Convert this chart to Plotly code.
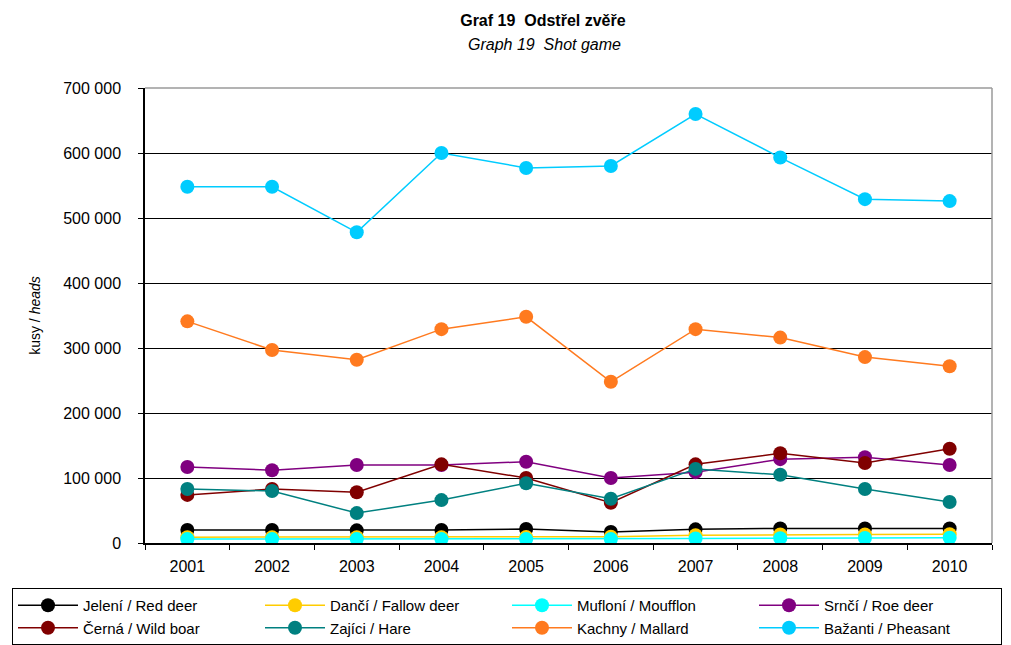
import plotly.graph_objects as go

years = ["2001", "2002", "2003", "2004", "2005", "2006", "2007", "2008", "2009", "2010"]

red_deer = [20000, 20000, 19500, 20000, 21500, 17000, 21000, 22500, 22500, 22500]
fallow_deer = [9000, 9000, 9000, 9000, 9200, 9800, 12000, 13000, 13200, 13500]
mouflon = [6000, 6000, 6000, 6000, 6000, 6000, 7000, 7500, 7800, 8000]
roe_deer = [117000, 112000, 120000, 120000, 125000, 100000, 109000, 129000, 132000, 120000]
wild_boar = [74000, 83000, 78000, 121000, 100000, 62000, 121000, 138000, 123000, 145000]
hare = [83000, 80000, 46000, 66000, 92000, 68000, 114000, 105000, 83000, 63000]
mallard = [341000, 297000, 282000, 329000, 348000, 248000, 329000, 316000, 286000, 272000]
pheasant = [548000, 548000, 478000, 600000, 577000, 580000, 660000, 593000, 529000, 526000]

series = [
    ("Jelení / Red deer", red_deer, "#000000"),
    ("Dančí / Fallow deer", fallow_deer, "#FFCC00"),
    ("Mufloní / Moufflon", mouflon, "#00FFFF"),
    ("Srnčí / Roe deer", roe_deer, "#800080"),
    ("Černá / Wild boar", wild_boar, "#800000"),
    ("Zajíci / Hare", hare, "#008080"),
    ("Kachny / Mallard", mallard, "#FF7A1F"),
    ("Bažanti / Pheasant", pheasant, "#00CCFF"),
]

FONT = "Liberation Sans, Arial, sans-serif"

fig = go.Figure()
for name, vals, color in series:
    fig.add_trace(go.Scatter(
        x=years, y=vals, name=name, mode="lines+markers",
        line=dict(color=color, width=1.5),
        marker=dict(color=color, size=14, symbol="circle"),
    ))

fig.update_layout(
    width=1011, height=645,
    margin=dict(l=145, r=19, t=88, b=102, autoexpand=False),
    paper_bgcolor="white", plot_bgcolor="white",
    separators=", ",
    font=dict(family=FONT, size=14, color="#000000"),
    showlegend=True,
    title=dict(
        text="<b>Graf 19\u00a0\u00a0Odstřel zvěře</b>",
        xref="container", yref="container",
        x=0.537, y=1 - 20 / 645, xanchor="center", yanchor="middle",
        font=dict(family=FONT, size=16, color="#000000"),
    ),
    legend=dict(
        orientation="h",
        x=(12 - 145) / 847, y=(543 - 588) / 455, xanchor="left", yanchor="top",
        itemwidth=60,
        entrywidth=172, entrywidthmode="pixels",
        bordercolor="#000000", borderwidth=1, bgcolor="white",
        font=dict(family=FONT, size=15, color="#000000"),
        traceorder="normal",
    ),
)

fig.add_annotation(
    text="<i>Graph 19\u00a0\u00a0Shot game</i>",
    xref="paper", yref="paper", x=0.472, y=1 + 43 / 455,
    xanchor="center", yanchor="middle", showarrow=False,
    font=dict(family=FONT, size=16, color="#000000"),
)

fig.update_xaxes(
    type="category", range=[-0.5, 9.5], tickson="boundaries",
    ticks="outside", ticklen=5, tickcolor="#000000",
    showline=True, linecolor="#000000", linewidth=1.5,
    showgrid=False, ticklabelstandoff=8,
    tickfont=dict(family=FONT, size=16, color="#000000"),
)
fig.update_yaxes(
    range=[0, 700000], dtick=100000, tickformat=",d",
    ticks="outside", ticklen=5, tickcolor="#000000",
    showline=True, linecolor="#000000", linewidth=1.5,
    showgrid=True, gridcolor="#000000", gridwidth=1,
    zeroline=False, ticklabelstandoff=14,
    tickfont=dict(family=FONT, size=16, color="#000000"),
    title=dict(text="kusy / <i>heads</i>", standoff=19,
               font=dict(family=FONT, size=14, color="#000000")),
)

# gray frame on the top and right of the plotting area
fig.add_shape(type="line", xref="paper", yref="paper", x0=0, x1=1, y0=1, y1=1,
              line=dict(color="#9A9A9A", width=1.5))
fig.add_shape(type="line", xref="paper", yref="paper", x0=1, x1=1, y0=0, y1=1,
              line=dict(color="#9A9A9A", width=1.5))

fig.write_html("out.html")
